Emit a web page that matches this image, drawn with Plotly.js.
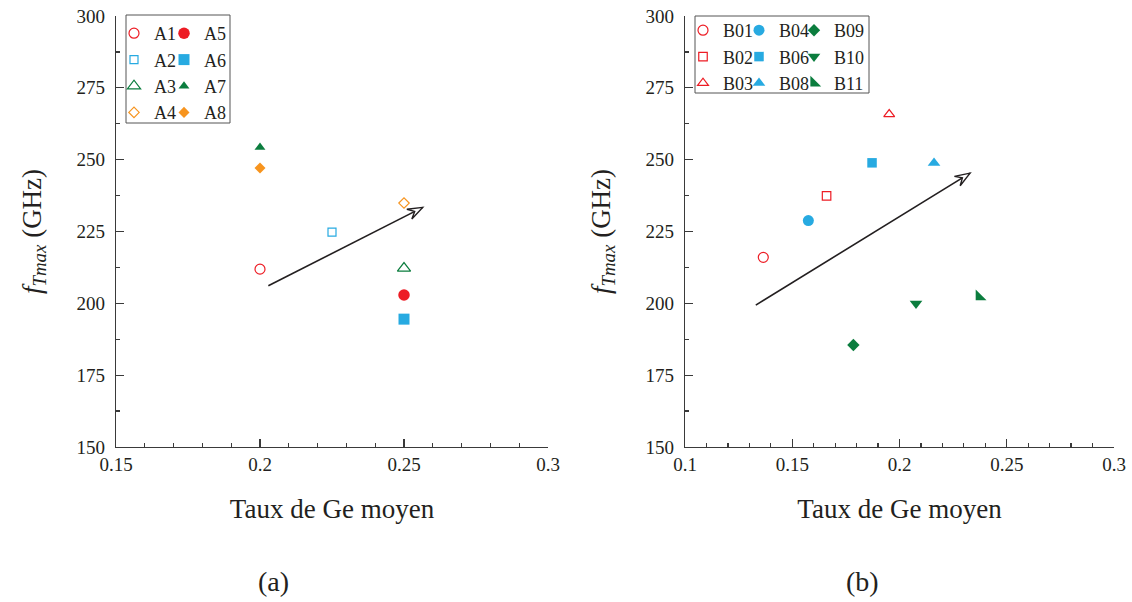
<!DOCTYPE html>
<html>
<head>
<meta charset="utf-8">
<script src="https://cdn.plot.ly/plotly-3.0.1.min.js"></script>
<style>
  html, body { margin: 0; padding: 0; background: #ffffff; }
  #chart { width: 1132px; height: 602px; }
</style>
</head>
<body>
<div id="chart"></div>
<script>
// ---- Panel (a): series A ----
const seriesA = ['A1', 'A2', 'A3', 'A4', 'A5', 'A6', 'A7', 'A8'];
const geA     = [0.200, 0.225, 0.250, 0.250, 0.250, 0.250, 0.200, 0.200];
const fmaxA   = [211.9, 224.8, 212.2, 234.9, 202.9, 194.5, 254.3, 247.1];

// ---- Panel (b): series B ----
const seriesB = ['B01', 'B02', 'B03', 'B04', 'B06', 'B08', 'B09', 'B10', 'B11'];
const geB     = [0.1365, 0.1660, 0.1952, 0.1575, 0.1872, 0.2161, 0.1785, 0.2077, 0.2372];
const fmaxB   = [216.0, 237.4, 265.8, 228.8, 248.9, 248.8, 185.5, 199.9, 202.3];

// Trend arrows: [start, tip]
const trendAx = [0.2029, 0.2565];
const trendAy = [206.1, 233.4];
const trendBx = [0.1330, 0.2329];
const trendBy = [199.4, 245.3];

// Axis ranges and tick labels
const xRangeA = [0.15, 0.30];
const xRangeB = [0.10, 0.30];
const yRange  = [150, 300];
const xTitle  = 'Taux de Ge moyen';
const yTitle  = '<i>f</i><sub><i>Tmax</i></sub> (GHz)';
const panelLabels = ['(a)', '(b)'];

// ---- Styles ----
const RED = '#ED1C24', BLUE = '#27AAE1', GREEN = '#0B7D3E', ORANGE = '#F7941E';
const INK = '#231f20', AXIS = '#3a3a3a';
const FONT = '"Liberation Serif", "Times New Roman", serif';

const styleA = [
  { symbol: 'circle-open',        color: RED,    size: 10 },
  { symbol: 'square-open',        color: BLUE,   size: 8 },
  { symbol: 'triangle-up-open',   color: GREEN,  size: 11.5 },
  { symbol: 'diamond-open',       color: ORANGE, size: 8 },
  { symbol: 'circle',             color: RED,    size: 11.5 },
  { symbol: 'square',             color: BLUE,   size: 11 },
  { symbol: 'triangle-up',        color: GREEN,  size: 9.5 },
  { symbol: 'diamond',            color: ORANGE, size: 8.5 }
];
const legendA = ['legend', 'legend', 'legend', 'legend', 'legend2', 'legend2', 'legend2', 'legend2'];

const styleB = [
  { symbol: 'circle-open',        color: RED,   size: 10 },
  { symbol: 'square-open',        color: RED,   size: 8.5 },
  { symbol: 'triangle-up-open',   color: RED,   size: 9.5 },
  { symbol: 'circle',             color: BLUE,  size: 11 },
  { symbol: 'square',             color: BLUE,  size: 9.5 },
  { symbol: 'triangle-up',        color: BLUE,  size: 11 },
  { symbol: 'diamond',            color: GREEN, size: 9.5 },
  { symbol: 'triangle-down',      color: GREEN, size: 11 },
  { symbol: 'triangle-sw',        color: GREEN, size: 12 }
];
const legendB = ['legend3', 'legend3', 'legend3', 'legend4', 'legend4', 'legend4', 'legend5', 'legend5', 'legend5'];

// ---- Geometry of the figure ----
const W = 1132, H = 602;
const margin = { l: 116, r: 18, t: 16, b: 155, autoexpand: false };
const plotW = W - margin.l - margin.r;
const plotH = H - margin.t - margin.b;
const domA = [0, 432 / plotW];
const domB = [569 / plotW, 1];

function markerTrace(name, x, y, st, legendId, xa, ya) {
  const open = st.symbol.indexOf('open') >= 0;
  return {
    type: 'scatter', mode: 'markers', name: name,
    x: [x], y: [y], xaxis: xa, yaxis: ya, legend: legendId,
    cliponaxis: false,
    marker: {
      symbol: st.symbol, size: st.size, color: st.color,
      line: { color: st.color, width: open ? 1.2 : 0 }
    }
  };
}

const traces = [];
seriesA.forEach((n, i) => traces.push(markerTrace(n, geA[i], fmaxA[i], styleA[i], legendA[i], 'x', 'y')));
seriesB.forEach((n, i) => traces.push(markerTrace(n, geB[i], fmaxB[i], styleB[i], legendB[i], 'x2', 'y2')));

// Arrow: shaft as a line shape, hollow head as a pixel-sized path anchored at the tip
function arrowShapes(xs, ys, xa, ya, xRange, dom) {
  const pxX = (dom[1] - dom[0]) * plotW / (xRange[1] - xRange[0]);
  const pxY = plotH / (yRange[1] - yRange[0]);
  const dx = (xs[1] - xs[0]) * pxX, dy = (ys[1] - ys[0]) * pxY;
  const th = Math.atan2(dy, dx);
  const c = Math.cos(th), s = Math.sin(th);
  const L = 15, Wd = 11, N = 9;
  const local = [[0, 0], [-L, Wd / 2], [-N, 0], [-L, -Wd / 2]];
  const pts = local.map(p => [(p[0] * c - p[1] * s).toFixed(2), (p[0] * s + p[1] * c).toFixed(2)]);
  const path = 'M' + pts.map(p => p[0] + ',' + p[1]).join('L') + 'Z';
  return [
    { type: 'line', xref: xa, yref: ya, x0: xs[0], y0: ys[0], x1: xs[1], y1: ys[1],
      line: { color: INK, width: 1.6 } },
    { type: 'path', xref: xa, yref: ya, xsizemode: 'pixel', ysizemode: 'pixel',
      xanchor: xs[1], yanchor: ys[1], path: path,
      fillcolor: '#ffffff', line: { color: INK, width: 1.4 } }
  ];
}

function px2paperX(px) { return (px - margin.l) / plotW; }
function px2paperY(py) { return (H - margin.b - py) / plotH; }

const legendBoxes = [
  { type: 'rect', xref: 'paper', yref: 'paper',
    x0: px2paperX(126), x1: px2paperX(230), y0: px2paperY(123), y1: px2paperY(15),
    line: { color: '#555555', width: 1 }, fillcolor: 'rgba(0,0,0,0)' },
  { type: 'rect', xref: 'paper', yref: 'paper',
    x0: px2paperX(695), x1: px2paperX(869), y0: px2paperY(93), y1: px2paperY(16),
    line: { color: '#555555', width: 1 }, fillcolor: 'rgba(0,0,0,0)' }
];

function legendAt(pxLeft, pxTop) {
  return {
    x: px2paperX(pxLeft), y: px2paperY(pxTop), xanchor: 'left', yanchor: 'top',
    bgcolor: 'rgba(0,0,0,0)', borderwidth: 0, orientation: 'v',
    font: { family: FONT, size: 18, color: INK }
  };
}

function xAxis(range, dom, anchor) {
  return {
    domain: dom, anchor: anchor, range: range, autorange: false,
    tick0: range[0], dtick: 0.05,
    showline: true, linecolor: AXIS, linewidth: 1.3, mirror: false,
    ticks: 'inside', ticklen: 8, tickwidth: 1.3, tickcolor: AXIS,
    minor: { dtick: 0.01, ticks: 'inside', ticklen: 4, tickwidth: 1.2, tickcolor: AXIS, showgrid: false },
    showgrid: false, zeroline: false,
    tickfont: { family: FONT, size: 19, color: INK },
    automargin: true,
    title: { text: xTitle, font: { family: FONT, size: 27, color: INK }, standoff: 25 }
  };
}
function yAxis(anchor) {
  return {
    anchor: anchor, range: yRange, autorange: false,
    tick0: 150, dtick: 25,
    showline: true, linecolor: AXIS, linewidth: 1.3, mirror: false,
    ticks: 'inside', ticklen: 8, tickwidth: 1.3, tickcolor: AXIS,
    minor: { dtick: 12.5, ticks: 'inside', ticklen: 4, tickwidth: 1.2, tickcolor: AXIS, showgrid: false },
    showgrid: false, zeroline: false,
    tickfont: { family: FONT, size: 19, color: INK },
    ticklabelstandoff: 6,
    automargin: true,
    title: { text: yTitle, font: { family: FONT, size: 27, color: INK }, standoff: 27 }
  };
}

const layout = {
  width: W, height: H, margin: margin,
  paper_bgcolor: '#ffffff', plot_bgcolor: '#ffffff',
  font: { family: FONT, color: INK },
  showlegend: true,
  xaxis: xAxis(xRangeA, domA, 'y'),
  yaxis: yAxis('x'),
  xaxis2: xAxis(xRangeB, domB, 'y2'),
  yaxis2: yAxis('x2'),
  legend:  legendAt(114, 15),
  legend2: legendAt(164, 15),
  legend3: legendAt(683, 12),
  legend4: legendAt(739, 12),
  legend5: legendAt(794, 12),
  shapes: legendBoxes
    .concat(arrowShapes(trendAx, trendAy, 'x', 'y', xRangeA, domA))
    .concat(arrowShapes(trendBx, trendBy, 'x2', 'y2', xRangeB, domB)),
  annotations: [
    { text: panelLabels[0], xref: 'paper', yref: 'paper', x: px2paperX(273), y: px2paperY(581),
      showarrow: false, xanchor: 'center', yanchor: 'middle', font: { family: FONT, size: 28, color: INK } },
    { text: panelLabels[1], xref: 'paper', yref: 'paper', x: px2paperX(862), y: px2paperY(581),
      showarrow: false, xanchor: 'center', yanchor: 'middle', font: { family: FONT, size: 28, color: INK } }
  ]
};

Plotly.newPlot('chart', traces, layout, { staticPlot: true, displayModeBar: false });
</script>
</body>
</html>
